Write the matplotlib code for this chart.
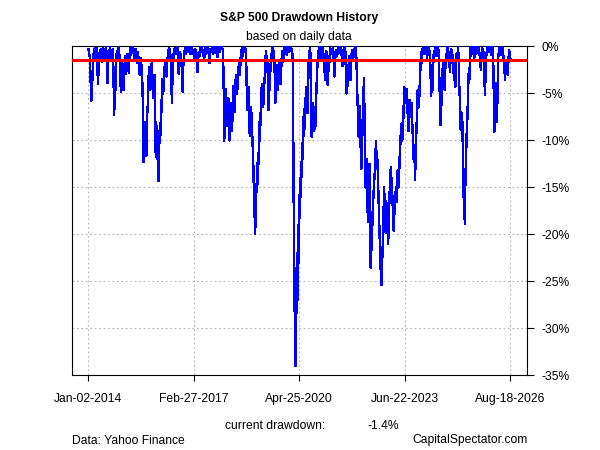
import numpy as np
import pandas as pd
import matplotlib
matplotlib.use('Agg')
import matplotlib.pyplot as plt

plt.rcParams['font.family'] = ['Liberation Sans', 'DejaVu Sans']
plt.rcParams['path.simplify'] = False

# Drawdown (%), one value every ~0.02 years
dd_2014_2017 = [
    -0.3, -0.8, -1.2, -3.5, -5.8, -4.5, -3.0, -1.2, -0.5, -0.2,
    -1.5, -0.6, -0.2, -1.8, -4.0, -2.2, -1.0, -0.4, -0.3, -0.9,
    -1.6, -0.7, -0.2, -1.3, -0.8, -0.3, -0.1, -1.5, -3.9, -1.8,
    -0.4, -1.0, -0.1, -0.6, -1.2, -0.5, -0.3, -2.5, -7.3, -5.5,
    -4.5, -2.0, -0.5, -1.0, 0.0, -0.4, -1.0, -2.0, -4.8, -2.5,
    -1.5, -3.0, -4.6, -3.2, -2.0, -1.0, -2.9, -1.5, -0.8, -1.6,
    -2.8, -1.0, -0.2, -0.9, -0.6, -0.1, 0.0, -0.7, -1.2, -0.5,
    -0.3, -1.1, -1.8, -0.6, -1.0, -2.2, -3.0, -1.2, -1.5, -2.4,
    -3.8, -6.5, -12.3, -9.5, -8.0, -10.5, -11.6, -7.5, -6.4, -4.0,
    -2.2, -3.5, -4.6, -2.5, -1.8, -3.8, -5.5, -4.0, -3.0, -6.0,
    -11.8, -9.5, -8.5, -12.5, -14.3, -11.0, -8.6, -9.5, -5.7, -7.0,
    -3.5, -5.0, -4.0, -2.5, -1.4, -2.8, -3.2, -1.8, -1.0, -0.4,
    -0.2, -0.6, -1.0, -2.5, -6.0, -3.0, -0.8, -1.4, -0.2, -0.5,
    -0.8, -0.2, 0.0, -1.2, -2.9, -1.3, -0.6, -0.9, -1.5, -2.5,
    -4.8, -2.0, -1.0, -0.5, -0.1, -0.8, -0.5, -0.2, 0.0, -0.6,
    -0.3, -0.1, -0.8, -0.3, 0.0, -0.7, -0.4, -1.3, -1.0, -0.3,
]
dd_2017_2020 = [
    -0.5, -1.5, -2.7, -1.5, -0.6, -1.0, -0.2, -0.6, 0.0, -0.3,
    -0.5, -0.9, -1.4, -0.5, -0.2, -0.8, -0.6, -0.1, 0.0, -0.9,
    -1.8, -0.7, -0.3, -0.6, 0.0, -0.8, -0.5, -0.2, -0.1, -0.7,
    -0.4, -0.1, -1.1, -0.4, 0.0, -0.6, -0.2, -0.1, 0.0, -0.2,
    -0.4, -3.5, -10.0, -6.5, -4.5, -7.0, -8.5, -6.0, -5.5, -8.5,
    -10.0, -7.5, -6.0, -9.0, -8.0, -5.5, -4.2, -7.0, -5.8, -3.5,
    -3.0, -5.0, -4.0, -2.5, -1.8, -3.0, -1.2, -2.0, -0.2, -1.0,
    -0.8, -0.2, 0.0, -0.6, -0.3, -2.5, -6.8, -5.0, -4.3, -7.5,
    -9.5, -7.0, -6.5, -8.5, -10.0, -12.0, -15.0, -17.5, -19.9, -17.0,
    -14.6, -15.5, -11.4, -12.5, -8.0, -10.0, -7.5, -5.5, -4.0, -6.0,
    -6.4, -4.5, -3.6, -2.0, -0.5, -1.2, -1.5, -3.5, -6.8, -4.8,
    -3.5, -2.0, -0.8, -1.5, 0.0, -0.4, -0.5, -2.5, -6.0, -4.0,
    -3.0, -2.0, -4.6, -3.0, -1.4, -2.6, -4.0, -2.0, -0.5, -1.6,
    -1.2, -0.4, 0.0, -0.6, -0.3, -0.9, 0.0, -0.3, -0.6, -0.1,
    0.0, -0.5, -0.2, -0.4, -1.5, -12.6, -24.0, -29.0, -34.0, -30.5,
]
dd_2020_2023 = [
    -22.0, -27.0, -19.0, -23.0, -16.5, -14.0, -16.0, -13.0, -10.3, -12.0,
    -7.5, -9.5, -5.5, -7.0, -4.3, -6.0, -7.1, -3.5, -0.5, -1.0,
    -0.2, -5.0, -9.6, -7.0, -6.0, -8.0, -9.0, -6.5, -8.5, -5.0,
    -3.0, -1.5, -0.5, -1.2, 0.0, -0.4, -0.6, -1.3, -0.1, -0.5,
    -1.0, -2.0, -3.6, -1.8, -0.5, -2.0, -4.1, -2.5, -1.0, -1.6,
    -0.2, -0.6, -0.8, -0.3, 0.0, -1.5, -3.2, -1.5, -0.4, -0.9,
    -1.0, -0.3, 0.0, -0.7, -0.3, -0.1, -0.9, -0.4, -2.1, -1.0,
    -0.2, -0.6, 0.0, -2.5, -5.0, -3.5, -4.2, -2.2, -1.0, -2.0,
    -3.6, -1.6, -0.4, -0.8, -1.2, -0.5, -0.3, -0.1, 0.0, -2.0,
    -5.0, -7.0, -9.6, -7.5, -6.4, -10.5, -13.0, -11.0, -8.0, -5.5,
    -3.4, -9.0, -15.0, -13.0, -12.0, -16.5, -18.7, -15.0, -12.5, -18.0,
    -23.6, -21.5, -20.0, -17.5, -16.0, -14.5, -13.5, -11.5, -10.1, -13.0,
    -12.0, -14.5, -17.0, -19.5, -22.0, -24.0, -25.4, -23.0, -21.0, -18.0,
    -15.0, -17.5, -19.8, -16.5, -17.0, -19.5, -21.0, -18.5, -16.0, -14.0,
    -12.8, -14.5, -15.5, -17.5, -19.6, -18.0, -17.0, -15.5, -15.0, -16.5,
    -13.2, -15.0, -14.5, -12.0, -10.5, -9.0, -8.2, -10.0, -9.0, -6.5,
]
dd_2023_2026 = [
    -4.3, -5.5, -6.0, -4.5, -5.0, -7.0, -9.0, -7.0, -5.7, -6.5,
    -7.5, -6.0, -8.5, -10.0, -12.0, -10.5, -14.2, -11.5, -9.0, -7.0,
    -4.6, -6.5, -6.0, -4.0, -1.5, -2.5, -0.3, -0.8, 0.0, -0.5,
    -0.8, -0.3, -0.1, -0.7, -1.2, -0.4, 0.0, -0.9, -0.5, -2.5,
    -5.3, -3.5, -4.6, -2.0, -0.5, -1.0, 0.0, -0.3, -0.6, -1.0,
    -0.1, -0.5, -3.0, -5.5, -8.4, -6.5, -4.5, -2.5, -1.4, -3.0,
    -4.6, -2.5, -0.8, -1.2, 0.0, -0.4, -0.6, -1.5, -2.7, -1.0,
    -0.3, -0.7, -1.0, -2.0, -3.6, -1.8, -4.3, -2.2, -0.8, -1.2,
    0.0, -1.5, -4.6, -6.0, -8.9, -7.0, -10.1, -8.0, -16.0, -13.0,
    -18.9, -14.0, -11.6, -9.0, -7.5, -4.5, -2.7, -3.5, 0.0, -1.0,
    -0.5, -0.2, -0.1, -0.6, -1.4, -0.5, 0.0, -0.8, -0.4, -0.1,
    0.0, -0.5, -0.8, -1.5, -2.5, -1.0, -0.2, -0.7, -0.6, -2.0,
    -5.2, -3.0, -1.0, -0.5, 0.0, -0.6, -0.5, -0.2, -0.1, -0.9,
    -0.8, -0.3, 0.0, -4.0, -9.1, -6.0, -3.9, -5.5, -8.0, -4.0,
    -1.0, -0.5, -0.1, -0.9, -0.6, -0.2, 0.0, -0.7, -1.3, -2.2,
    -3.6, -2.0, -1.5, -2.4, -3.0, -1.5, -0.4, -0.9, -1.4,
]

START_YEAR = 2014.01
STEP_YEARS = 0.0201

tick_dates = ['2014-01-02', '2017-02-27', '2020-04-25', '2023-06-22', '2026-08-18']
tick_labels = ['Jan-02-2014', 'Feb-27-2017', 'Apr-25-2020', 'Jun-22-2023', 'Aug-18-2026']
y_ticks = [0, -5, -10, -15, -20, -25, -30, -35]
y_labels = ['0%', '-5%', '-10%', '-15%', '-20%', '-25%', '-30%', '-35%']


def decimal_year(s):
    t = pd.Timestamp(s)
    n_days = 366 if t.is_leap_year else 365
    return t.year + (t.dayofyear - 1) / n_days


dd = np.concatenate([dd_2014_2017, dd_2017_2020, dd_2020_2023, dd_2023_2026])
years = START_YEAR + STEP_YEARS * np.arange(len(dd))
current_dd = dd[-1]

fig = plt.figure(figsize=(6, 4.5), dpi=100)
ax = fig.add_axes([71.7 / 600, 1 - 375.3 / 450, (527.3 - 71.7) / 600, (375.3 - 46) / 450])

ax.plot(years, dd, color='blue', lw=1.0, antialiased=False, zorder=3)
ax.axhline(current_dd, color='red', lw=1.9, antialiased=False, zorder=4)

# R-style 4% padding on the x range
span = years[-1] - years[0]
ax.set_xlim(years[0] - 0.04 * span, years[-1] + 0.04 * span)
ax.set_ylim(-35, 0.05)

ax.set_xticks([decimal_year(d) for d in tick_dates])
ax.set_xticklabels(tick_labels)
ax.set_yticks(y_ticks)
ax.set_yticklabels(y_labels)

ax.yaxis.tick_right()
ax.tick_params(axis='y', left=False, right=True, length=5, width=0.8,
               pad=5.5, labelsize=8.7)
ax.tick_params(axis='x', length=4.6, width=0.8, pad=8, labelsize=8.7)

ax.grid(True, color='#b4b4b4', linestyle=(0, (1.5, 2.5)), linewidth=0.8)
ax.set_axisbelow(True)
for sp in ax.spines.values():
    sp.set_linewidth(0.8)
    sp.set_color('black')

fig.text(0.498, 1 - 18.3 / 450, 'S&P 500 Drawdown History', ha='center',
         va='center', fontsize=8.7, fontweight='bold')
fig.text(0.498, 1 - 37.3 / 450, 'based on daily data', ha='center',
         va='center', fontsize=8.7)
fig.text(225 / 600, 1 - 426 / 450, 'current drawdown:', ha='left',
         va='center', fontsize=8.7)
fig.text(367.7 / 600, 1 - 426 / 450, f'{current_dd:.1f}%', ha='left',
         va='center', fontsize=8.7)
fig.text(71.7 / 600, 1 - 440.5 / 450, 'Data: Yahoo Finance', ha='left',
         va='center', fontsize=8.7)
fig.text(527.3 / 600, 1 - 440.5 / 450, 'CapitalSpectator.com', ha='right',
         va='center', fontsize=8.7)

fig.savefig('out.png', dpi=100, facecolor='white')
